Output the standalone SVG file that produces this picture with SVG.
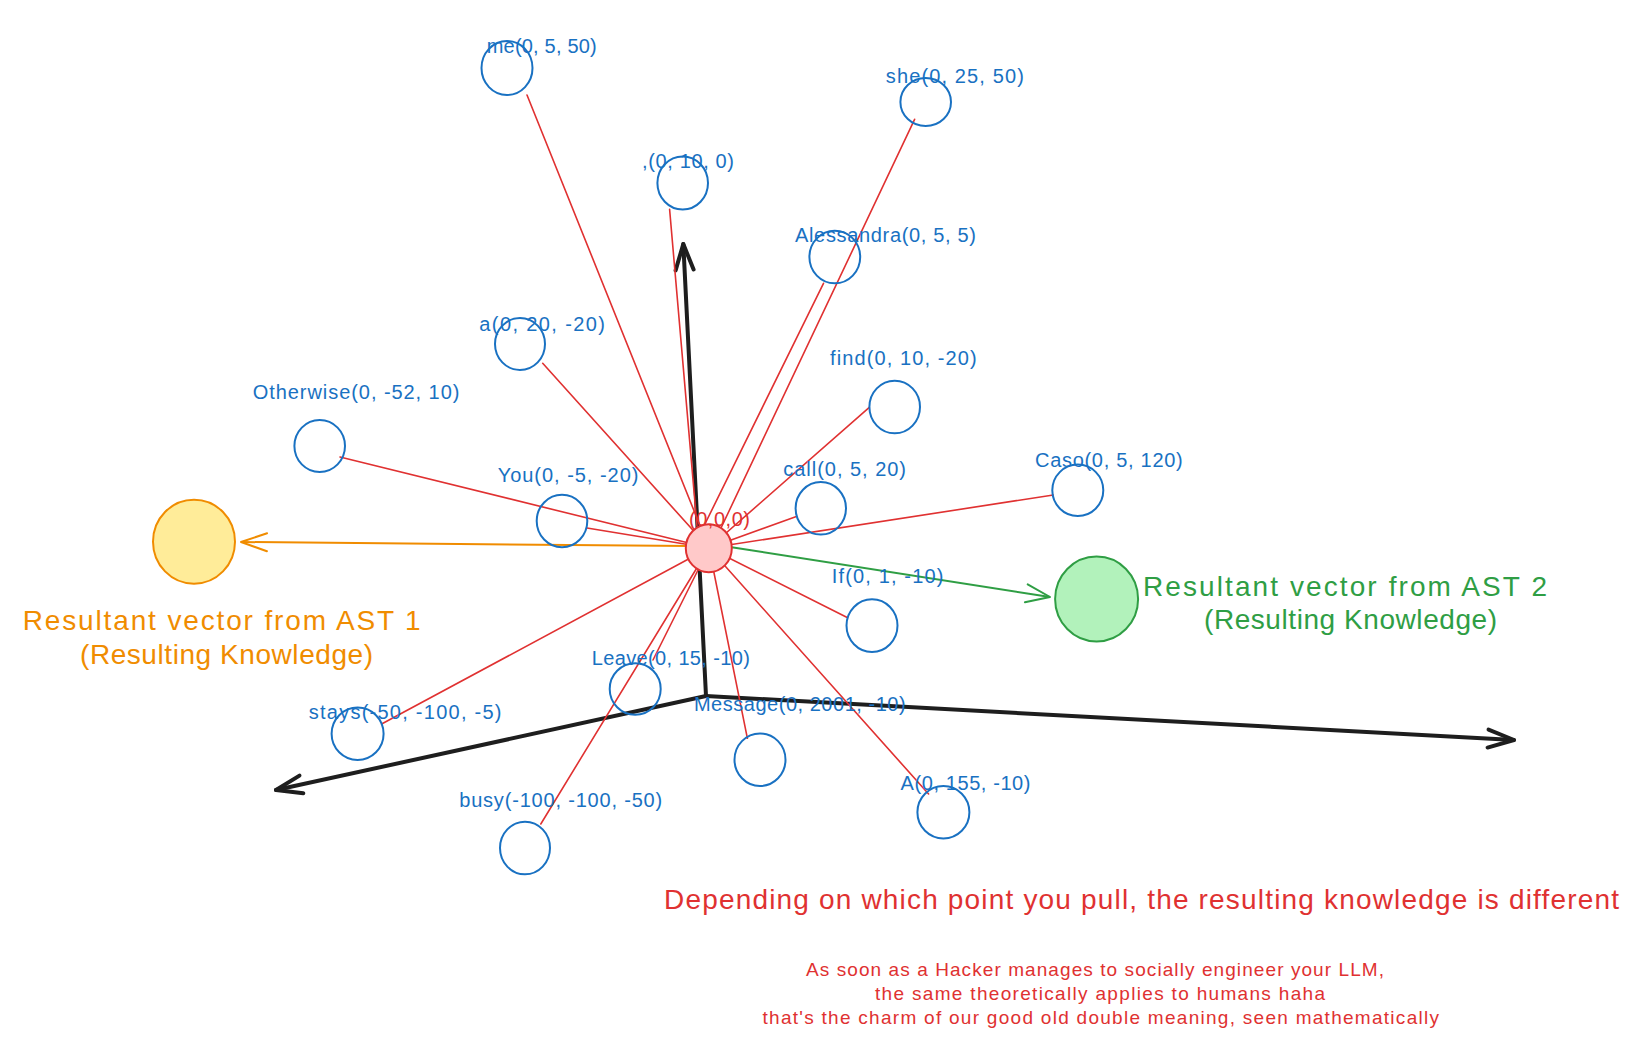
<svg xmlns="http://www.w3.org/2000/svg" width="1630" height="1042" viewBox="0 0 1630 1042">
<defs>
<style>
.node{fill:none;stroke:#1971c2;stroke-width:2}
.lbl{font-family:"Liberation Sans",Arial,sans-serif;font-size:20px;fill:#1971c2}
.edge{stroke:#e03131;stroke-width:1.6;fill:none;stroke-linecap:round}
.axis{stroke:#1e1e1e;stroke-width:4;fill:none;stroke-linecap:round;stroke-linejoin:round}
.txt{font-family:"Liberation Sans",Arial,sans-serif}
</style>
<marker id="ahAxis" markerUnits="userSpaceOnUse" markerWidth="40" markerHeight="30" viewBox="-30 -15 40 30" refX="0" refY="0" orient="auto">
<path d="M-26 -9 L0 0 L-26 9" fill="none" stroke="#1e1e1e" stroke-width="4" stroke-linecap="round" stroke-linejoin="round"/>
</marker>
<marker id="ahOrange" markerUnits="userSpaceOnUse" markerWidth="40" markerHeight="30" viewBox="-30 -15 40 30" refX="0" refY="0" orient="auto">
<path d="M-26 -9 L0 0 L-26 9" fill="none" stroke="#f08c00" stroke-width="2" stroke-linecap="round" stroke-linejoin="round"/>
</marker>
<marker id="ahGreen" markerUnits="userSpaceOnUse" markerWidth="40" markerHeight="30" viewBox="-30 -15 40 30" refX="0" refY="0" orient="auto">
<path d="M-24 -9 L0 0 L-24 9" fill="none" stroke="#2f9e44" stroke-width="2" stroke-linecap="round" stroke-linejoin="round"/>
</marker>
</defs>
<rect width="1630" height="1042" fill="#ffffff"/>

<g id="axes">
<line class="axis" x1="706" y1="696" x2="683.3" y2="244" marker-end="url(#ahAxis)"/>
<line class="axis" x1="706" y1="696" x2="1514" y2="740" marker-end="url(#ahAxis)"/>
<line class="axis" x1="706" y1="696" x2="276" y2="790" marker-end="url(#ahAxis)"/>
</g>

<g id="connectors">
<line class="edge" x1="709" y1="548" x2="527" y2="95"/>
<line class="edge" x1="721" y1="528" x2="914.6" y2="119.3"/>
<line class="edge" x1="697" y1="526" x2="669.6" y2="209.3"/>
<line class="edge" x1="702" y1="530" x2="823.5" y2="283.3"/>
<line class="edge" x1="709" y1="548" x2="542.7" y2="363.3"/>
<line class="edge" x1="709" y1="548" x2="340" y2="457"/>
<line class="edge" x1="709" y1="548" x2="587" y2="528"/>
<line class="edge" x1="709" y1="548" x2="869.3" y2="407.3"/>
<line class="edge" x1="709" y1="548" x2="795.7" y2="516.7"/>
<line class="edge" x1="709" y1="548" x2="1053.3" y2="495"/>
<line class="edge" x1="709" y1="548" x2="846.7" y2="617.3"/>
<line class="edge" x1="709" y1="548" x2="928.6" y2="794"/>
<line class="edge" x1="709" y1="548" x2="747.4" y2="738.3"/>
<line class="edge" x1="709" y1="548" x2="540.8" y2="824"/>
<line class="edge" x1="709" y1="548" x2="653" y2="660"/>
<line class="edge" x1="709" y1="548" x2="381.6" y2="724"/>
<line x1="690" y1="546" x2="241" y2="542" stroke="#f08c00" stroke-width="2" marker-end="url(#ahOrange)"/>
<line x1="730" y1="547" x2="1050" y2="597" stroke="#2f9e44" stroke-width="2" marker-end="url(#ahGreen)"/>
</g>

<g id="origin">
<ellipse cx="708.8" cy="548.2" rx="23" ry="24" fill="#ffc9c9" stroke="#e03131" stroke-width="2"/>
<text class="txt" x="689" y="526" font-size="20" fill="#e03131" textLength="61">(0,0,0)</text>
</g>

<g id="node-me"><ellipse class="node" cx="507" cy="68" rx="25.5" ry="27"/><text class="lbl" x="486.7" y="53.3" textLength="110">me(0, 5, 50)</text></g>
<g id="node-she"><ellipse class="node" cx="925.7" cy="102" rx="25.3" ry="24"/><text class="lbl" x="885.8" y="83.3" textLength="138">she(0, 25, 50)</text></g>
<g id="node-comma"><ellipse class="node" cx="682.7" cy="183" rx="25.3" ry="26.5"/><text class="lbl" x="642" y="168.3" textLength="92">,(0, 10, 0)</text></g>
<g id="node-alessandra"><ellipse class="node" cx="834.8" cy="257" rx="25.4" ry="26.3"/><text class="lbl" x="795" y="241.7" textLength="181">Alessandra(0, 5, 5)</text></g>
<g id="node-a"><ellipse class="node" cx="520" cy="344" rx="25" ry="26"/><text class="lbl" x="479.3" y="331" textLength="125.7">a(0, 20, -20)</text></g>
<g id="node-otherwise"><ellipse class="node" cx="319.7" cy="446" rx="25.3" ry="26"/><text class="lbl" x="252.7" y="399" textLength="206.7">Otherwise(0, -52, 10)</text></g>
<g id="node-you"><ellipse class="node" cx="562" cy="521" rx="25.3" ry="26.2"/><text class="lbl" x="497.7" y="481.7" textLength="140.7">You(0, -5, -20)</text></g>
<g id="node-find"><ellipse class="node" cx="894.7" cy="407" rx="25.3" ry="26.3"/><text class="lbl" x="830" y="365" textLength="146.7">find(0, 10, -20)</text></g>
<g id="node-call"><ellipse class="node" cx="820.8" cy="508.3" rx="25.2" ry="26.3"/><text class="lbl" x="783.3" y="475.7" textLength="122.7">call(0, 5, 20)</text></g>
<g id="node-caso"><ellipse class="node" cx="1077.8" cy="490.3" rx="25.5" ry="25.7"/><text class="lbl" x="1035" y="466.7" textLength="147.7">Caso(0, 5, 120)</text></g>
<g id="node-if"><ellipse class="node" cx="872" cy="625.6" rx="25.5" ry="26.3"/><text class="lbl" x="831.7" y="583.3" textLength="111.7">If(0, 1, -10)</text></g>
<g id="node-leave"><ellipse class="node" cx="635.2" cy="689" rx="25.5" ry="25.8"/><text class="lbl" x="591.8" y="665" textLength="158">Leave(0, 15, -10)</text></g>
<g id="node-stays"><ellipse class="node" cx="357.6" cy="733.8" rx="26" ry="26.2"/><text class="lbl" x="308.7" y="719.3" textLength="192.8">stays(-50, -100, -5)</text></g>
<g id="node-message"><ellipse class="node" cx="760" cy="759.7" rx="25.5" ry="26.3"/><text class="lbl" x="693.9" y="710.7" textLength="211.7">Message(0, 2001, -10)</text></g>
<g id="node-A"><ellipse class="node" cx="943.4" cy="812.2" rx="26" ry="26.2"/><text class="lbl" x="900.5" y="790" textLength="130">A(0, 155, -10)</text></g>
<g id="node-busy"><ellipse class="node" cx="525" cy="848" rx="25" ry="26.3"/><text class="lbl" x="459.2" y="806.7" textLength="203">busy(-100, -100, -50)</text></g>

<g id="result-ast1">
<ellipse cx="194" cy="541.7" rx="41" ry="42" fill="#ffec99" stroke="#f08c00" stroke-width="2"/>
<text class="txt" x="22.7" y="630" font-size="28" fill="#f08c00" textLength="398">Resultant vector from AST 1</text>
<text class="txt" x="80" y="664" font-size="28" fill="#f08c00" textLength="293">(Resulting Knowledge)</text>
</g>

<g id="result-ast2">
<ellipse cx="1096.6" cy="599" rx="41.5" ry="42.5" fill="#b2f2bb" stroke="#2f9e44" stroke-width="2"/>
<text class="txt" x="1143" y="596" font-size="28" fill="#2f9e44" textLength="404">Resultant vector from AST 2</text>
<text class="txt" x="1204" y="629" font-size="28" fill="#2f9e44" textLength="293">(Resulting Knowledge)</text>
</g>

<g id="notes">
<text class="txt" x="664" y="909" font-size="28" fill="#e03131" textLength="955">Depending on which point you pull, the resulting knowledge is different</text>
<text class="txt" x="806" y="976" font-size="19" fill="#e03131" textLength="578">As soon as a Hacker manages to socially engineer your LLM,</text>
<text class="txt" x="875" y="1000" font-size="19" fill="#e03131" textLength="450">the same theoretically applies to humans haha</text>
<text class="txt" x="762.5" y="1024" font-size="19" fill="#e03131" textLength="676.5">that's the charm of our good old double meaning, seen mathematically</text>
</g>
</svg>
